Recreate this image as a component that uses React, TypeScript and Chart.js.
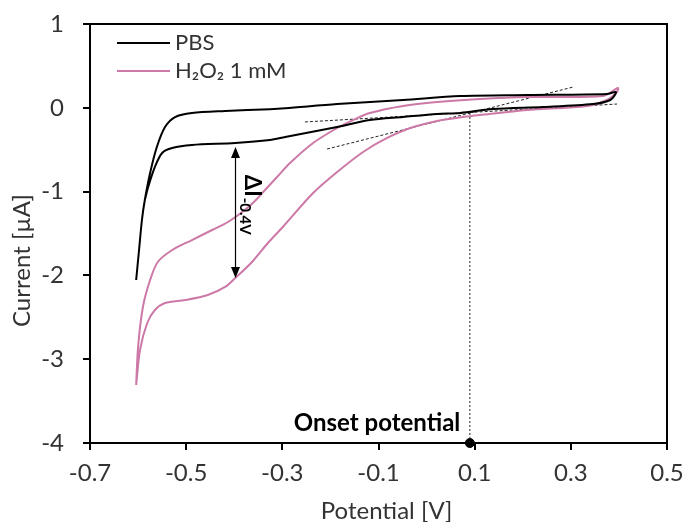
import React, { useEffect, useRef } from "react";
import { Chart, registerables } from "chart.js";

Chart.register(...registerables);

// ---------- data ----------
const X_TICKS = [-0.7, -0.5, -0.3, -0.1, 0.1, 0.3, 0.5];
const Y_TICKS = [1, 0, -1, -2, -3, -4];
const X_TITLE = "Potential [V]";
const Y_TITLE = "Current [µA]";
const SERIES_LABELS = ["PBS", "H₂O₂ 1 mM"];

const PBS_V = [-0.604, -0.598, -0.592, -0.586, -0.575, -0.561, -0.544, -0.523, -0.488, -0.419, -0.326, -0.294, -0.186, -0.049, 0.07, 0.209, 0.375, 0.394, 0.382, 0.346, 0.242, 0.138, 0.07, 0.022, -0.049, -0.118, -0.186, -0.294, -0.326, -0.398, -0.488, -0.529, -0.55, -0.565, -0.579, -0.586];
const PBS_I = [-2.055, -1.697, -1.339, -1.1, -0.778, -0.468, -0.229, -0.11, -0.062, -0.038, -0.016, -0.005, 0.045, 0.093, 0.141, 0.153, 0.165, 0.189, 0.093, 0.045, 0.01, -0.014, -0.062, -0.074, -0.11, -0.146, -0.229, -0.348, -0.384, -0.42, -0.444, -0.48, -0.539, -0.706, -0.945, -1.1];

const H2O2_V = [-0.604, -0.6, -0.59, -0.575, -0.559, -0.529, -0.488, -0.446, -0.413, -0.378, -0.357, -0.336, -0.311, -0.284, -0.236, -0.186, -0.153, -0.118, -0.049, 0.022, 0.111, 0.209, 0.367, 0.398, 0.396, 0.375, 0.334, 0.209, 0.111, 0.076, 0.022, -0.034, -0.082, -0.132, -0.186, -0.236, -0.299, -0.33, -0.363, -0.398, -0.419, -0.455, -0.502, -0.544, -0.565, -0.581, -0.596, -0.604];
const H2O2_I = [-3.308, -2.854, -2.377, -2.055, -1.84, -1.697, -1.578, -1.458, -1.363, -1.22, -1.112, -0.981, -0.826, -0.659, -0.42, -0.241, -0.146, -0.062, 0.022, 0.069, 0.105, 0.129, 0.141, 0.236, 0.189, 0.093, 0.022, -0.026, -0.086, -0.11, -0.157, -0.241, -0.36, -0.527, -0.766, -1.017, -1.422, -1.613, -1.84, -2.031, -2.138, -2.234, -2.294, -2.329, -2.413, -2.568, -2.89, -3.308];

// tangent lines used for onset determination
const TANGENT_BASE_V = [-0.253, 0.396];
const TANGENT_BASE_I = [-0.169, 0.045];
const TANGENT_RISE_V = [-0.207, 0.305];
const TANGENT_RISE_I = [-0.492, 0.248];

const ONSET_V = 0.09;
const ONSET_I = -0.062;
const ONSET_LABEL = "Onset potential";
const ONSET_LABEL_V = -0.103;
const ONSET_LABEL_I = -3.77;

const DELTA_V = -0.398;
const DELTA_I_TOP = -0.468;
const DELTA_I_BOTTOM = -2.031;
const DELTA_LABEL = "ΔI";
const DELTA_SUB = "-0.4V";
const DELTA_LABEL_V = -0.378;
const DELTA_LABEL_I = -0.8;

const X_MIN = -0.7, X_MAX = 0.5, Y_MIN = -4, Y_MAX = 1;

// ---------- styles ----------
const FONT = "Lato";
const PINK = "#CC79A7";
const TEXT = "#333333";

const pts = (xs: number[], ys: number[]) => xs.map((v, i) => ({ x: v, y: ys[i] }));

const annotPlugin = {
  id: "annot",
  afterDatasetsDraw(chart: any) {
    const { ctx, chartArea: a, scales } = chart;
    const x = scales.x, y = scales.y;
    ctx.save();
    // frame
    ctx.strokeStyle = "#000";
    ctx.lineWidth = 2;
    ctx.strokeRect(a.left, a.top, a.right - a.left, a.bottom - a.top);

    // double arrow
    const ax = Math.round(x.getPixelForValue(DELTA_V)) + 0.5;
    const y1 = y.getPixelForValue(DELTA_I_TOP);
    const y2 = y.getPixelForValue(DELTA_I_BOTTOM);
    ctx.lineWidth = 1.2;
    ctx.beginPath();
    ctx.moveTo(ax, y1 + 8);
    ctx.lineTo(ax, y2 - 8);
    ctx.stroke();
    ctx.fillStyle = "#000";
    ctx.beginPath();
    ctx.moveTo(ax, y1);
    ctx.lineTo(ax - 4.5, y1 + 11);
    ctx.lineTo(ax + 4.5, y1 + 11);
    ctx.closePath();
    ctx.fill();
    ctx.beginPath();
    ctx.moveTo(ax, y2);
    ctx.lineTo(ax - 4.5, y2 - 11);
    ctx.lineTo(ax + 4.5, y2 - 11);
    ctx.closePath();
    ctx.fill();

    // ΔI label (rotated)
    ctx.save();
    ctx.translate(x.getPixelForValue(DELTA_LABEL_V), y.getPixelForValue(DELTA_LABEL_I));
    ctx.rotate(Math.PI / 2);
    ctx.textAlign = "left";
    ctx.textBaseline = "alphabetic";
    ctx.font = `bold 22px ${FONT}`;
    ctx.fillText(DELTA_LABEL, 0, 0);
    const w = ctx.measureText(DELTA_LABEL).width;
    ctx.font = `bold 15px ${FONT}`;
    ctx.fillText(DELTA_SUB, w + 1, 5);
    ctx.restore();

    // onset label
    ctx.font = `bold 24px ${FONT}`;
    ctx.textAlign = "center";
    ctx.textBaseline = "middle";
    ctx.fillStyle = "#000";
    ctx.fillText(ONSET_LABEL, x.getPixelForValue(ONSET_LABEL_V), y.getPixelForValue(ONSET_LABEL_I));

    // legend
    const ds = chart.data.datasets;
    const rows = [0, 1];
    ctx.font = `22px ${FONT}`;
    ctx.textAlign = "left";
    rows.forEach((di: number, r: number) => {
      const ly = a.top + 19 + r * 28;
      ctx.strokeStyle = ds[di].borderColor;
      ctx.lineWidth = 2;
      ctx.beginPath();
      ctx.moveTo(a.left + 27, ly);
      ctx.lineTo(a.left + 80, ly);
      ctx.stroke();
      ctx.fillStyle = TEXT;
      ctx.fillText(ds[di].label, a.left + 85, ly);
    });

    // axis titles
    ctx.fillStyle = TEXT;
    ctx.font = `24px ${FONT}`;
    ctx.textAlign = "center";
    ctx.textBaseline = "middle";
    ctx.fillText(X_TITLE, (a.left + a.right) / 2 + 8, 511);
    ctx.save();
    ctx.translate(22, (a.top + a.bottom) / 2 + 27);
    ctx.rotate(-Math.PI / 2);
    ctx.fillText(Y_TITLE, 0, 0);
    ctx.restore();

    ctx.restore();
  },
};

export default function App() {
  const ref = useRef<HTMLCanvasElement>(null);
  useEffect(() => {
    const chart = new Chart(ref.current as HTMLCanvasElement, {
      type: "scatter",
      data: {
        datasets: [
          {
            label: SERIES_LABELS[0],
            data: pts(PBS_V, PBS_I),
            showLine: true,
            borderColor: "#000000",
            borderWidth: 2,
            pointRadius: 0,
            tension: 0.3,
          },
          {
            label: SERIES_LABELS[1],
            data: pts(H2O2_V, H2O2_I),
            showLine: true,
            borderColor: PINK,
            borderWidth: 2,
            pointRadius: 0,
            tension: 0.3,
          },
          {
            label: "baseline tangent",
            data: pts(TANGENT_BASE_V, TANGENT_BASE_I),
            showLine: true,
            borderColor: "#222",
            borderWidth: 1,
            borderDash: [3, 2],
            pointRadius: 0,
          },
          {
            label: "rise tangent",
            data: pts(TANGENT_RISE_V, TANGENT_RISE_I),
            showLine: true,
            borderColor: "#222",
            borderWidth: 1,
            borderDash: [3, 2],
            pointRadius: 0,
          },
          {
            label: "onset line",
            data: pts([ONSET_V, ONSET_V], [ONSET_I, Y_MIN]),
            showLine: true,
            borderColor: "#222",
            borderWidth: 1,
            borderDash: [2, 2],
            pointRadius: 0,
          },
          {
            label: "onset point",
            data: pts([ONSET_V], [Y_MIN]),
            showLine: false,
            pointRadius: 4.5,
            pointBackgroundColor: "#000",
            pointBorderColor: "#000",
            clip: false as any,
          },
        ],
      },
      options: {
        responsive: false,
        animation: false,
        devicePixelRatio: 1,
        layout: { padding: { top: 24, right: 19, left: 0, bottom: 0 } },
        plugins: { legend: { display: false }, tooltip: { enabled: false } },
        scales: {
          x: {
            type: "linear",
            min: X_MIN,
            max: X_MAX,
            afterBuildTicks: (s: any) => {
              s.ticks = X_TICKS.map((v) => ({ value: v }));
            },
            afterFit: (s: any) => {
              s.height = 79;
              s.paddingLeft = 0;
              s.paddingRight = 0;
            },
            ticks: {
              callback: (v: any) => Number(v).toFixed(1),
              font: { family: FONT, size: 24 },
              color: TEXT,
              padding: 9,
              maxRotation: 0,
            },
            grid: { drawOnChartArea: false, drawTicks: true, tickLength: 7, color: "#000", lineWidth: 2 },
            border: { display: false },
          },
          y: {
            type: "linear",
            min: Y_MIN,
            max: Y_MAX,
            afterBuildTicks: (s: any) => {
              s.ticks = Y_TICKS.map((v) => ({ value: v }));
            },
            afterFit: (s: any) => {
              s.width = 90;
              s.paddingTop = 0;
              s.paddingBottom = 0;
            },
            ticks: {
              callback: (v: any) => String(v),
              font: { family: FONT, size: 24 },
              color: TEXT,
              padding: 19,
            },
            grid: { drawOnChartArea: false, drawTicks: true, tickLength: 7, color: "#000", lineWidth: 2 },
            border: { display: false },
          },
        },
      },
      plugins: [annotPlugin],
    });
    return () => chart.destroy();
  }, []);
  return (
    <div style={{ position: "absolute", left: 0, top: 0, width: 686, height: 522 }}>
      <canvas ref={ref} width={686} height={522} style={{ display: "block", width: 686, height: 522 }} />
    </div>
  );
}
